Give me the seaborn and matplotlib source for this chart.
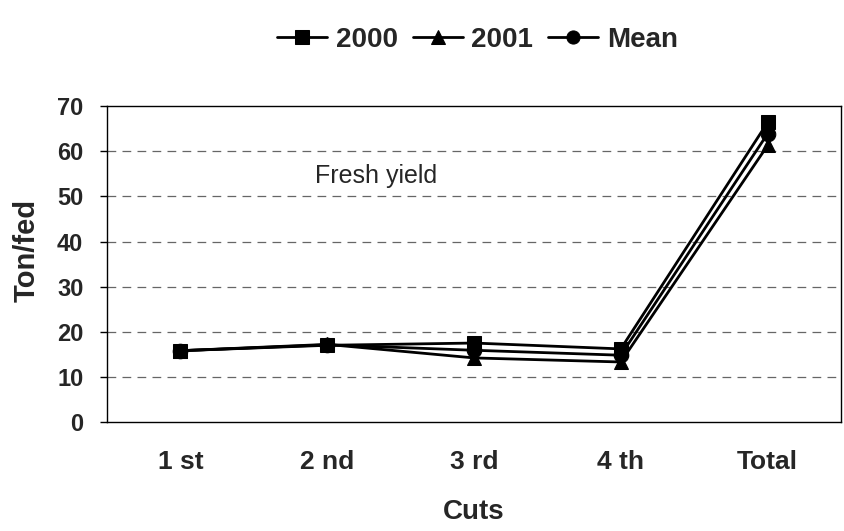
import matplotlib
matplotlib.use("Agg")
import matplotlib.pyplot as plt
import seaborn as sns
import pandas as pd

# values (ton/fed)
cuts = ["1 st", "2 nd", "3 rd", "4 th", "Total"]
y2000 = [15.8, 17.0, 17.5, 16.2, 66.4]
y2001 = [15.8, 17.2, 14.2, 13.3, 61.3]
y_mean = [15.8, 17.1, 15.9, 14.8, 63.9]

series = ["2000", "2001", "Mean"]
df = pd.DataFrame({
    "Cuts": cuts * 3,
    "Ton/fed": y2000 + y2001 + y_mean,
    "Series": [s for s in series for _ in cuts],
})

sns.set_style("white")
plt.rcParams["font.family"] = ["Liberation Sans", "DejaVu Sans"]

fig = plt.figure(figsize=(8.45, 5.31), dpi=100)
ax = fig.add_axes([0.1266, 0.2053, 0.8687, 0.5947])

sns.lineplot(data=df, x="Cuts", y="Ton/fed", hue="Series", style="Series",
             palette=["black"] * 3, markers=["s", "^", "o"], dashes=False,
             linewidth=2, markersize=10.5, markeredgecolor="black", ax=ax)

ax.set_xlim(-0.5, 4.5)
ax.set_ylim(0, 70)
ax.set_yticks(range(0, 71, 10))
for v in range(10, 70, 10):
    ax.axhline(v, color="0.4", lw=0.9, ls=(0, (7, 5)), zorder=0)

for sp in ax.spines.values():
    sp.set_color("black")
    sp.set_linewidth(1.0)

ax.tick_params(axis="y", direction="out", length=5, width=1, color="black",
               labelsize=17, pad=12, left=True)
ax.tick_params(axis="x", length=0, labelsize=19, pad=20)
for lab in ax.get_xticklabels() + ax.get_yticklabels():
    lab.set_fontweight("bold")

ax.set_xlabel("Cuts", fontsize=20, fontweight="bold", va="center")
ax.xaxis.set_label_coords(0.5, -0.285)
ax.set_ylabel("Ton/fed", fontsize=21, fontweight="bold", va="center")
ax.yaxis.set_label_coords(-0.11, 0.543)

ax.text(0.915, 54.5, "Fresh yield", fontsize=18, ha="left", va="center")

handles, labels = ax.get_legend_handles_labels()
ax.legend(handles, labels, ncol=3, frameon=False, loc="center",
          bbox_to_anchor=(0.565, 0.925), bbox_transform=fig.transFigure,
          prop={"size": 20, "weight": "bold"}, handlelength=1.8,
          handletextpad=0.3, columnspacing=0.55, markerscale=0.9)

fig.savefig("out.png", dpi=100)
